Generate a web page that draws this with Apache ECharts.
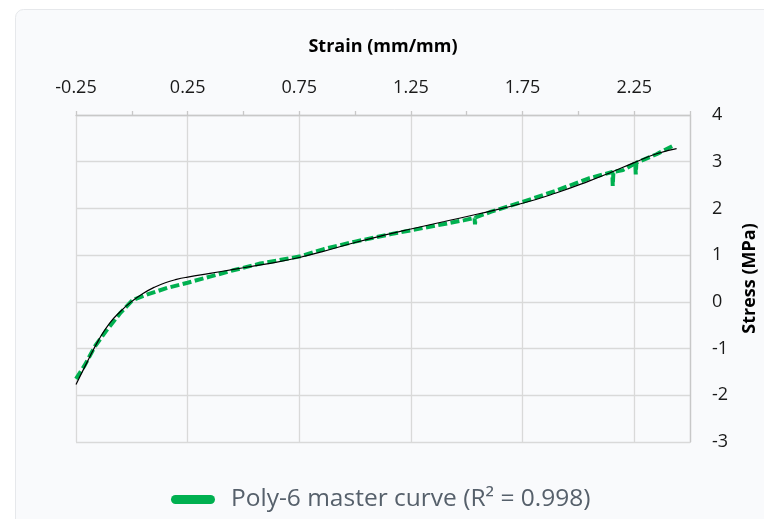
<!DOCTYPE html>
<html>
<head>
<meta charset="utf-8">
<script src="https://cdn.jsdelivr.net/npm/echarts@6/dist/echarts.min.js"></script>
<style>
  html, body { margin: 0; padding: 0; background: #ffffff; }
  #chart { width: 764px; height: 519px; }
</style>
</head>
<body>
<div id="chart"></div>
<script>
// measured curve (green dashed), strain vs stress, spikes kept as in the picture
const dataStrain = [-0.25, -0.21, -0.165, -0.11, -0.05, 0.0, 0.015, 0.07, 0.16, 0.25, 0.35, 0.45, 0.575, 0.75, 0.86, 1.0, 1.16, 1.25, 1.38, 1.49, 1.535, 1.537, 1.54, 1.61, 1.75, 1.9, 2.05, 2.152, 2.154, 2.157, 2.2, 2.255, 2.257, 2.26, 2.35, 2.42];
const dataStress = [-1.65, -1.35, -0.95, -0.59, -0.23, 0.02, 0.06, 0.16, 0.30, 0.41, 0.54, 0.67, 0.82, 0.97, 1.13, 1.29, 1.45, 1.53, 1.65, 1.75, 1.80, 1.66, 1.81, 1.93, 2.14, 2.38, 2.65, 2.78, 2.48, 2.78, 2.82, 2.97, 2.73, 2.98, 3.16, 3.33];

// fitted curve (thin black)
const fitStrain = [-0.25, -0.2, -0.15, -0.1, -0.05, 0, 0.05, 0.1, 0.15, 0.2, 0.25, 0.35, 0.45, 0.55, 0.65, 0.75, 0.85, 1.0, 1.15, 1.25, 1.4, 1.55, 1.75, 1.9, 2.05, 2.15, 2.25, 2.35, 2.44];
const fitStress = [-1.77, -1.29, -0.83, -0.46, -0.20, 0.01, 0.18, 0.31, 0.41, 0.48, 0.53, 0.61, 0.69, 0.77, 0.85, 0.95, 1.07, 1.27, 1.45, 1.56, 1.72, 1.88, 2.11, 2.33, 2.59, 2.78, 2.98, 3.17, 3.28];

const xLabels = [-0.25, 0.25, 0.75, 1.25, 1.75, 2.25];
const yTicks = [-3, -2, -1, 0, 1, 2, 3, 4];
const legendName = 'Poly-6 master curve (R\u00b2 = 0.998)';

const font = '"Open Sans", "Noto Sans", sans-serif';

let chart = echarts.init(document.getElementById('chart'), null, {renderer: 'canvas'});
chart.setOption({
  backgroundColor: '#ffffff',
  animation: false,
  textStyle: {fontFamily: font},
  graphic: [{
    type: 'rect',
    z: -10,
    shape: {x: 15.5, y: 9.5, width: 800, height: 600, r: 8},
    style: {fill: '#f9fafc', stroke: '#e6e8eb', lineWidth: 1}
  }],
  grid: {left: 76, right: 74, top: 115, bottom: 77, containLabel: false, outerBoundsMode: 'none'},
  legend: {
    top: 487,
    left: 171,
    data: [legendName],
    icon: 'path://M4.5,0 H39.5 A4.5,4.5 0 0 1 39.5,9 H4.5 A4.5,4.5 0 0 1 4.5,0 Z',
    itemWidth: 44,
    itemHeight: 9,
    padding: 0,
    textStyle: {fontSize: 24.5, color: '#56606b', fontFamily: font, padding: [0, 0, 0, 11]}
  },
  xAxis: [
    {
      type: 'value',
      position: 'top',
      min: -0.25,
      max: 2.5,
      interval: 0.25,
      axisLine: {show: true, onZero: false, lineStyle: {color: '#c8c8c8', width: 1.3}},
      axisTick: {show: true, inside: false, length: 4, lineStyle: {color: '#c8c8c8', width: 1.3}},
      axisLabel: {show: false},
      splitLine: {show: false}
    },
    {
      type: 'value',
      position: 'top',
      min: -0.25,
      max: 2.5,
      interval: 0.5,
      name: 'Strain (mm/mm)',
      nameLocation: 'middle',
      nameGap: 59,
      nameTextStyle: {fontSize: 18, fontWeight: 'bold', color: '#000', fontFamily: font},
      axisLine: {show: false, onZero: false},
      axisTick: {show: false},
      axisLabel: {
        fontSize: 18, color: '#1a1a1a', margin: 18, showMaxLabel: false,
        formatter: function (v) {
          let hit = xLabels.find(function (t) { return Math.abs(t - v) < 1e-6; });
          return hit === undefined ? '' : hit.toFixed(2);
        }
      },
      splitLine: {show: true, lineStyle: {color: '#d9d9d9', width: 1.3}}
    }
  ],
  yAxis: {
    type: 'value',
    position: 'right',
    min: yTicks[0],
    max: yTicks[yTicks.length - 1],
    interval: 1,
    name: 'Stress (MPa)',
    nameLocation: 'middle',
    nameGap: 51,
    nameTextStyle: {fontSize: 18, fontWeight: 'bold', color: '#000', fontFamily: font},
    axisLine: {show: true, onZero: false, lineStyle: {color: '#c8c8c8', width: 1.3}},
    axisTick: {show: false},
    axisLabel: {fontSize: 18, color: '#1a1a1a', margin: 22},
    splitLine: {show: true, lineStyle: {color: '#d9d9d9', width: 1.3}}
  },
  series: [
    {
      name: legendName,
      type: 'line',
      xAxisIndex: 0,
      data: dataStrain.map(function (x, i) { return [x, dataStress[i]]; }),
      showSymbol: false,
      smooth: false,
      lineStyle: {color: '#00b050', width: 4, type: [9, 3.5], cap: 'butt'},
      itemStyle: {color: '#00b050'},
      z: 2
    },
    {
      name: 'fit',
      type: 'line',
      xAxisIndex: 0,
      data: fitStrain.map(function (x, i) { return [x, fitStress[i]]; }),
      showSymbol: false,
      smooth: true,
      lineStyle: {color: '#000000', width: 1.2},
      itemStyle: {color: '#000000'},
      z: 3
    }
  ]
});
</script>
</body>
</html>
